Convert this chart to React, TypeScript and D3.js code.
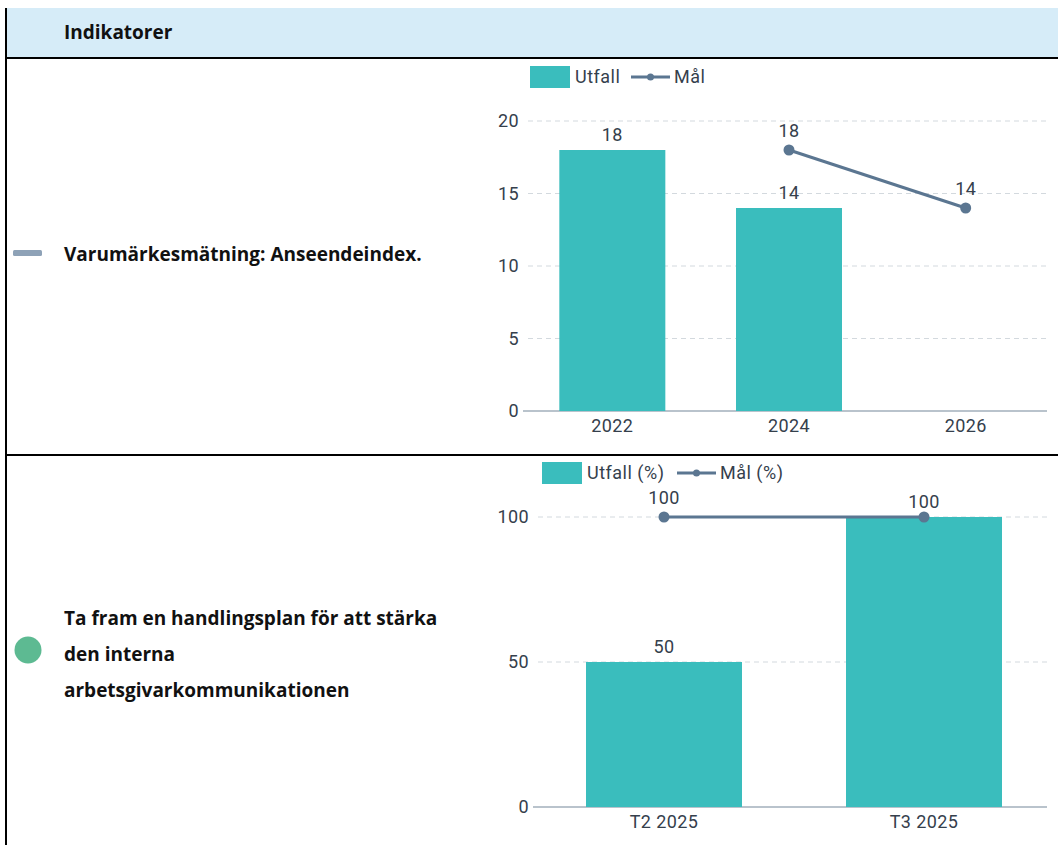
import React, { useEffect } from 'react';
import * as d3 from 'd3';

// Indicator table: two rows, each with a status icon, a label and a small
// bar + target-line chart.

const years = ['2022', '2024', '2026'];
const utfall1: (number | null)[] = [18, 14, null];
const mal1: (number | null)[] = [null, 18, 14];
const yTicks1 = [0, 5, 10, 15, 20];

const terms = ['T2 2025', 'T3 2025'];
const utfall2: (number | null)[] = [50, 100];
const mal2: (number | null)[] = [100, 100];
const yTicks2 = [0, 50, 100];

const headerLabel = 'Indikatorer';
const row1Label = ['Varumärkesmätning: Anseendeindex.'];
const row2Label = ['Ta fram en handlingsplan för att stärka', 'den interna', 'arbetsgivarkommunikationen'];

const TEAL = '#3abdbd';
const LINE = '#5b7691';
const TEXT = '#35404c';
const GRID = '#d3d9de';
const AXIS = '#b9c3cc';
const CHART_FONT = 'Roboto, sans-serif';
const TABLE_FONT = '"Open Sans", Lato, sans-serif';
const FS = 18;

type ChartProps = {
  cats: string[];
  bars: (number | null)[];
  line: (number | null)[];
  ticks: number[];
  max: number;
  xRange: [number, number];
  yRange: [number, number];
  axisRight: number;
  legend: { x: number; y: number; barText: string; lineText: string; lineX: number };
};

const MiniChart = ({ cats, bars, line, ticks, max, xRange, yRange, axisRight, legend }: ChartProps) => {
  const x = d3.scaleBand<string>().domain(cats).range(xRange).paddingInner(0.4).paddingOuter(0.2);
  const y = d3.scaleLinear().domain([0, max]).range(yRange);
  const cx = (c: string) => (x(c) ?? 0) + x.bandwidth() / 2;
  const gridLeft = xRange[0] - 1;

  // ECharts-style hideOverlap: a target label sitting on an identical bar label is dropped
  const linePts = cats
    .map((c, i) => ({ c, v: line[i], hide: bars[i] != null && bars[i] === line[i] }))
    .filter((d) => d.v != null) as { c: string; v: number; hide: boolean }[];
  const path = d3
    .line<{ c: string; v: number }>()
    .x((d) => cx(d.c))
    .y((d) => y(d.v))(linePts);

  return (
    <g fontFamily={CHART_FONT}>
      {/* legend */}
      <rect x={legend.x} y={legend.y} width={40} height={22} fill={TEAL} />
      <text x={legend.x + 45} y={legend.y + 17} fontSize={FS} fill={TEXT} letterSpacing={0.5}>
        {legend.barText}
      </text>
      <line x1={legend.lineX} x2={legend.lineX + 39} y1={legend.y + 11} y2={legend.y + 11} stroke={LINE} strokeWidth={3} />
      <circle cx={legend.lineX + 19.5} cy={legend.y + 11} r={3.5} fill={LINE} />
      <text x={legend.lineX + 43} y={legend.y + 17} fontSize={FS} fill={TEXT} letterSpacing={0.5}>
        {legend.lineText}
      </text>

      {/* grid + y labels */}
      {ticks.map((t) => (
        <g key={t}>
          {t > 0 && (
            <line x1={gridLeft + 5} x2={axisRight} y1={y(t)} y2={y(t)} stroke={GRID} strokeDasharray="5,4" />
          )}
          <text x={xRange[0] - 5} y={y(t) + 6} textAnchor="end" fontSize={FS} fill={TEXT} letterSpacing={0.4}>
            {t}
          </text>
        </g>
      ))}
      <line x1={gridLeft} x2={axisRight} y1={y(0)} y2={y(0)} stroke={AXIS} strokeWidth={2} />

      {/* bars */}
      {cats.map((c, i) =>
        bars[i] == null ? null : (
          <g key={c}>
            <rect x={x(c)} y={y(bars[i] as number)} width={x.bandwidth()} height={y(0) - y(bars[i] as number)} fill={TEAL} />
            <text x={cx(c)} y={y(bars[i] as number) - 9} textAnchor="middle" fontSize={FS} fill={TEXT} letterSpacing={0.4}>
              {bars[i]}
            </text>
          </g>
        ),
      )}

      {/* target line */}
      <path d={path ?? ''} fill="none" stroke={LINE} strokeWidth={3} />
      {linePts.map((d) => (
        <g key={d.c}>
          <circle cx={cx(d.c)} cy={y(d.v)} r={5.5} fill={LINE} />
          {!d.hide && (
            <text x={cx(d.c)} y={y(d.v) - 13} textAnchor="middle" fontSize={FS} fill={TEXT} letterSpacing={0.4}>
              {d.v}
            </text>
          )}
        </g>
      ))}

      {/* x labels */}
      {cats.map((c) => (
        <text key={c} x={cx(c)} y={y(0) + 21} textAnchor="middle" fontSize={FS} fill={TEXT} letterSpacing={0.4}>
          {c}
        </text>
      ))}
    </g>
  );
};

export default function App() {
  useEffect(() => {
    document.body.style.margin = '0';
    document.body.style.overflow = 'hidden';
  }, []);

  return (
    <svg width={1058} height={845} style={{ display: 'block', background: '#fff' }}>
      {/* table frame */}
      <rect x={6} y={8} width={1052} height={50} fill="#d6ecf8" />
      <text x={64} y={39} fontFamily={TABLE_FONT} fontWeight={700} fontSize={19} fill="#111">
        {headerLabel}
      </text>
      <line x1={6} x2={1058} y1={58} y2={58} stroke="#000" strokeWidth={2} />
      <line x1={6} x2={1058} y1={455} y2={455} stroke="#000" strokeWidth={2} />
      <line x1={6} x2={6} y1={8} y2={845} stroke="#000" strokeWidth={2} />

      {/* row 1 */}
      <rect x={13} y={250} width={29} height={6} rx={1.5} fill="#8ea2b7" />
      {row1Label.map((t, i) => (
        <text key={i} x={64} y={261 + i * 36} fontFamily={TABLE_FONT} fontWeight={700} fontSize={19} fill="#111">
          {t}
        </text>
      ))}
      <MiniChart
        cats={years}
        bars={utfall1}
        line={mal1}
        ticks={yTicks1}
        max={20}
        xRange={[524, 1054]}
        yRange={[411, 121]}
        axisRight={1047}
        legend={{ x: 530, y: 66, barText: 'Utfall', lineText: 'Mål', lineX: 631 }}
      />

      {/* row 2 */}
      <circle cx={28} cy={650} r={13.5} fill="#5dba92" />
      {row2Label.map((t, i) => (
        <text key={i} x={64} y={625 + i * 36} fontFamily={TABLE_FONT} fontWeight={700} fontSize={19} fill="#111">
          {t}
        </text>
      ))}
      <MiniChart
        cats={terms}
        bars={utfall2}
        line={mal2}
        ticks={yTicks2}
        max={100}
        xRange={[534, 1054]}
        yRange={[807, 517]}
        axisRight={1047}
        legend={{ x: 542, y: 462, barText: 'Utfall (%)', lineText: 'Mål (%)', lineX: 677 }}
      />
    </svg>
  );
}
